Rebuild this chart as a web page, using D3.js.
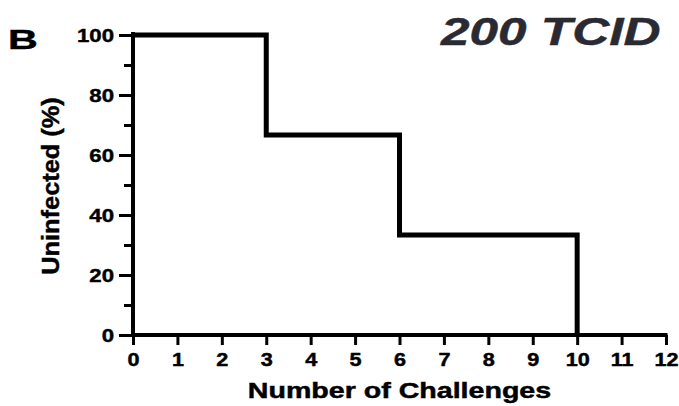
<!DOCTYPE html>
<html>
<head>
<meta charset="utf-8">
<script src="https://cdn.jsdelivr.net/npm/d3@7/dist/d3.min.js"></script>
<style>
  html, body { margin: 0; padding: 0; background: #fff; }
  svg { display: block; }
  text { font-family: "Liberation Sans", Arial, Helvetica, sans-serif; font-weight: bold; }
  .heavy { stroke: currentColor; stroke-width: 0.45px; paint-order: stroke; }
</style>
</head>
<body>
<svg id="chart" width="679" height="406"></svg>
<script>
// Survival-style step data: percent uninfected after each number of challenges
const challenges = [0, 3, 6, 10];
const uninfected = [100, 66.7, 33.3, 0];

const xTickValues = [0, 1, 2, 3, 4, 5, 6, 7, 8, 9, 10, 11, 12];
const yTickValues = [0, 20, 40, 60, 80, 100];
const yMinorTickValues = [10, 30, 50, 70, 90];

const panelLabel = "B";
const titleText = "200 TCID";
const xTitle = "Number of Challenges";
const yTitle = "Uninfected (%)";

const W = 679, H = 406;
const margin = { left: 133, right: 13, top: 35, bottom: 71 };

const svg = d3.select("#chart");

const x = d3.scaleLinear().domain([0, 12]).range([margin.left, W - margin.right]);
const y = d3.scaleLinear().domain([0, 100]).range([H - margin.bottom, margin.top]);

// widen tick text horizontally (wide bold face), keeping its anchor point fixed
function widenTicks(sel, sx) {
  sel.each(function () {
    const t = d3.select(this);
    const px = +(t.attr("x") || 0);
    t.attr("x", px / sx).attr("transform", `scale(${sx},1)`);
  });
}

// place a text element at (cx, cy), stretched by sx along its own baseline
function placedText(cx, cy, sx, rot) {
  return svg.append("text")
    .attr("class", "heavy")
    .attr("transform", `translate(${cx},${cy})${rot ? ` rotate(${rot})` : ""} scale(${sx},1)`);
}

// Y axis with major and minor ticks
const yAxis = svg.append("g")
  .attr("transform", `translate(${x(0)},0)`)
  .call(d3.axisLeft(y).tickValues(yTickValues).tickSize(14).tickPadding(5).tickSizeOuter(0));
svg.append("g")
  .attr("transform", `translate(${x(0)},0)`)
  .call(d3.axisLeft(y).tickValues(yMinorTickValues).tickSize(9).tickFormat("").tickSizeOuter(0))
  .call(g => g.select(".domain").remove())
  .selectAll("line").attr("stroke", "#000").attr("stroke-width", 3);

yAxis.select(".domain").attr("stroke", "#000").attr("stroke-width", 4)
  .attr("d", `M0,${y(0) + 2}V${y(100) - 3}`);
yAxis.selectAll(".tick line").attr("stroke", "#000").attr("stroke-width", 3);
yAxis.selectAll(".tick text")
  .attr("fill", "#000").attr("class", "heavy").attr("color", "#000")
  .style("font-size", "18.5px").attr("dy", "0.36em");
widenTicks(yAxis.selectAll(".tick text"), 1.2);

// X axis
const xAxis = svg.append("g")
  .attr("transform", `translate(0,${y(0)})`)
  .call(d3.axisBottom(x).tickValues(xTickValues).tickSize(10).tickPadding(8).tickSizeOuter(0));
xAxis.select(".domain").attr("stroke", "#000").attr("stroke-width", 4)
  .attr("d", `M${x(0) - 2},0H${x(12) + 1.5}`);
xAxis.selectAll(".tick line").attr("stroke", "#000").attr("stroke-width", 3);
xAxis.selectAll(".tick text")
  .attr("fill", "#000").attr("class", "heavy").attr("color", "#000")
  .style("font-size", "18px").attr("dy", "0.72em");
widenTicks(xAxis.selectAll(".tick text"), 1.2);

// Step curve
const line = d3.line()
  .x((d, i) => x(challenges[i]))
  .y(d => y(d))
  .curve(d3.curveStepAfter);

svg.append("path")
  .datum(uninfected)
  .attr("d", line)
  .attr("fill", "none")
  .attr("stroke", "#000")
  .attr("stroke-width", 5)
  .attr("stroke-linejoin", "miter")
  .attr("stroke-linecap", "butt");

// Axis titles
placedText((x(0) + x(12)) / 2, 398, 1.33)
  .attr("text-anchor", "middle")
  .attr("fill", "#000").attr("color", "#000")
  .style("font-size", "21.5px")
  .text(xTitle);

placedText(59, 186, 1.08, -90)
  .attr("text-anchor", "middle")
  .attr("fill", "#000").attr("color", "#000")
  .style("font-size", "23.5px")
  .text(yTitle);

// Panel letter
placedText(8, 48.5, 1.5)
  .attr("fill", "#000").attr("color", "#000")
  .style("font-size", "27.5px")
  .text(panelLabel);

// Dose title
placedText(441, 45, 1.35)
  .style("font-size", "38px")
  .style("font-style", "italic")
  .attr("fill", "#2a2a33").attr("color", "#2a2a33")
  .text(titleText);
</script>
</body>
</html>
